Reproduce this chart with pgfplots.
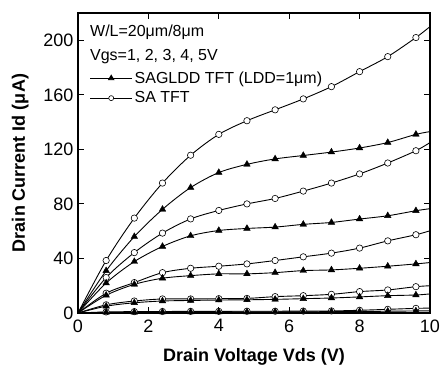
\documentclass[border=0pt]{standalone}
\usepackage{pgfplots}
\usepackage{pgfplotstable}
\pgfplotsset{compat=1.18}
\usepackage{fontspec}
\setmainfont{Liberation Sans}

\pgfplotstableread{
x    sa1  sa2  sa3  sa4  sa5   gl1  gl2  gl3  gl4  gl5
0    0    0    0    0    0     0    0    0    0    0
0.8  0.8  6.0  14.5 26.0 38.5  0.5  5.0  13.0 22.0 31.0
1.6  1.0  8.8  22.3 44.3 69.6  0.6  7.5  21.0 37.7 56.0
2.4  1.1  10.3 29.6 58.6 95.3  0.7  8.8  25.5 48.8 76.0
3.2  1.2  10.3 32.8 69.0 115.7 0.7  9.2  27.4 56.6 92.0
4.0  1.2  10.5 34.3 75.2 131.0 0.8  9.5  28.7 60.5 103.0
4.8  1.3  10.7 36.0 80.0 141.0 0.8  9.7  28.7 62.0 109.0
5.6  1.3  12.0 38.5 84.0 149.0 0.9  10.0 29.6 63.0 113.0
6.4  1.4  12.7 41.2 89.4 157.0 0.9  10.5 31.1 65.0 115.5
7.2  1.5  13.7 43.9 95.3 166.0 1.0  11.0 31.6 66.4 118.0
8.0  2.0  15.7 47.6 102.0 177.0 1.1 11.8 32.8 68.9 121.0
8.8  2.7  16.9 52.9 110.0 188.0 1.3 12.7 34.3 71.3 125.0
9.6  3.4  19.3 57.4 119.0 202.0 1.5 13.2 36.0 75.0 131.0
10   3.6  20.0 60.3 125.0 210.0 1.6 14.0 37.0 76.5 133.0
}\data

\pgfplotsset{
  sastyle/.style={black, line width=0.9pt, smooth, tension=0.5, mark=*, mark size=3.2pt,
    mark options={fill=white, line width=0.6pt}, mark indices={2,...,13}},
  glstyle/.style={black, line width=0.9pt, smooth, tension=0.5, mark=triangle*, mark size=3.8pt,
    mark options={fill=black, line width=0.4pt}, mark indices={2,...,13}},
}

\begin{document}
\begin{tikzpicture}
\begin{axis}[
  scale only axis,
  width=352pt, height=300pt,
  xmin=0, xmax=10, ymin=0, ymax=220,
  xtick={0,2,4,6,8,10},
  ytick={0,40,80,120,160,200},
  tick align=inside,
  major tick length=6pt,
  axis line style={line width=1.3pt},
  every tick/.style={black, line width=1pt},
  /pgf/number format/assume math mode=true,
  tick label style={font=\fontsize{18}{20}\selectfont},
  xticklabel style={yshift=-3pt},
  yticklabel style={xshift=-1pt},
  xlabel={Drain Voltage Vds (V)},
  ylabel={Drain Current Id (μA)},
  every axis x label/.style={at={(axis description cs:0.5,-0.147)}, anchor=center,
    font=\bfseries\fontsize{18}{20}\selectfont},
  every axis y label/.style={at={(axis description cs:-0.164,0.5)}, anchor=center, rotate=90,
    font=\bfseries\fontsize{18}{20}\selectfont},
  legend cell align=left,
  legend style={at={(axis description cs:0.03,0.815)}, anchor=north west, draw=none, fill=none,
    font=\fontsize{16}{18}\selectfont, row sep=3pt, inner sep=1pt},
  legend image code/.code={\draw[mark repeat=2, mark phase=2, #1] plot coordinates {(0pt,0pt) (21pt,0pt) (42pt,0pt)};},
]
\addplot[sastyle, forget plot] table[x=x, y=sa1] {\data};
\addplot[sastyle, forget plot] table[x=x, y=sa2] {\data};
\addplot[sastyle, forget plot] table[x=x, y=sa3] {\data};
\addplot[sastyle, forget plot] table[x=x, y=sa4] {\data};
\addplot[sastyle, forget plot] table[x=x, y=sa5] {\data};
\addplot[glstyle, forget plot] table[x=x, y=gl1] {\data};
\addplot[glstyle, forget plot] table[x=x, y=gl2] {\data};
\addplot[glstyle, forget plot] table[x=x, y=gl3] {\data};
\addplot[glstyle, forget plot] table[x=x, y=gl4] {\data};
\addplot[glstyle, forget plot] table[x=x, y=gl5] {\data};
\addlegendimage{black, line width=0.9pt, mark=triangle*, mark size=3pt, mark options={fill=black}}
\addlegendentry{SAGLDD TFT (LDD=1μm)}
\addlegendimage{black, line width=0.9pt, mark=*, mark size=2.5pt, mark options={fill=white, line width=0.6pt}}
\addlegendentry{SA TFT}
\node[anchor=base west, font=\fontsize{16}{18}\selectfont, inner sep=0pt] at (axis description cs:0.034,0.92) {W/L=20μm/8μm};
\node[anchor=base west, font=\fontsize{16}{18}\selectfont, inner sep=0pt] at (axis description cs:0.034,0.843) {Vgs=1, 2, 3, 4, 5V};
\end{axis}
\pgfresetboundingbox
\path[use as bounding box] (-78pt,-57pt) rectangle (362pt,313pt);
\end{tikzpicture}
\end{document}
